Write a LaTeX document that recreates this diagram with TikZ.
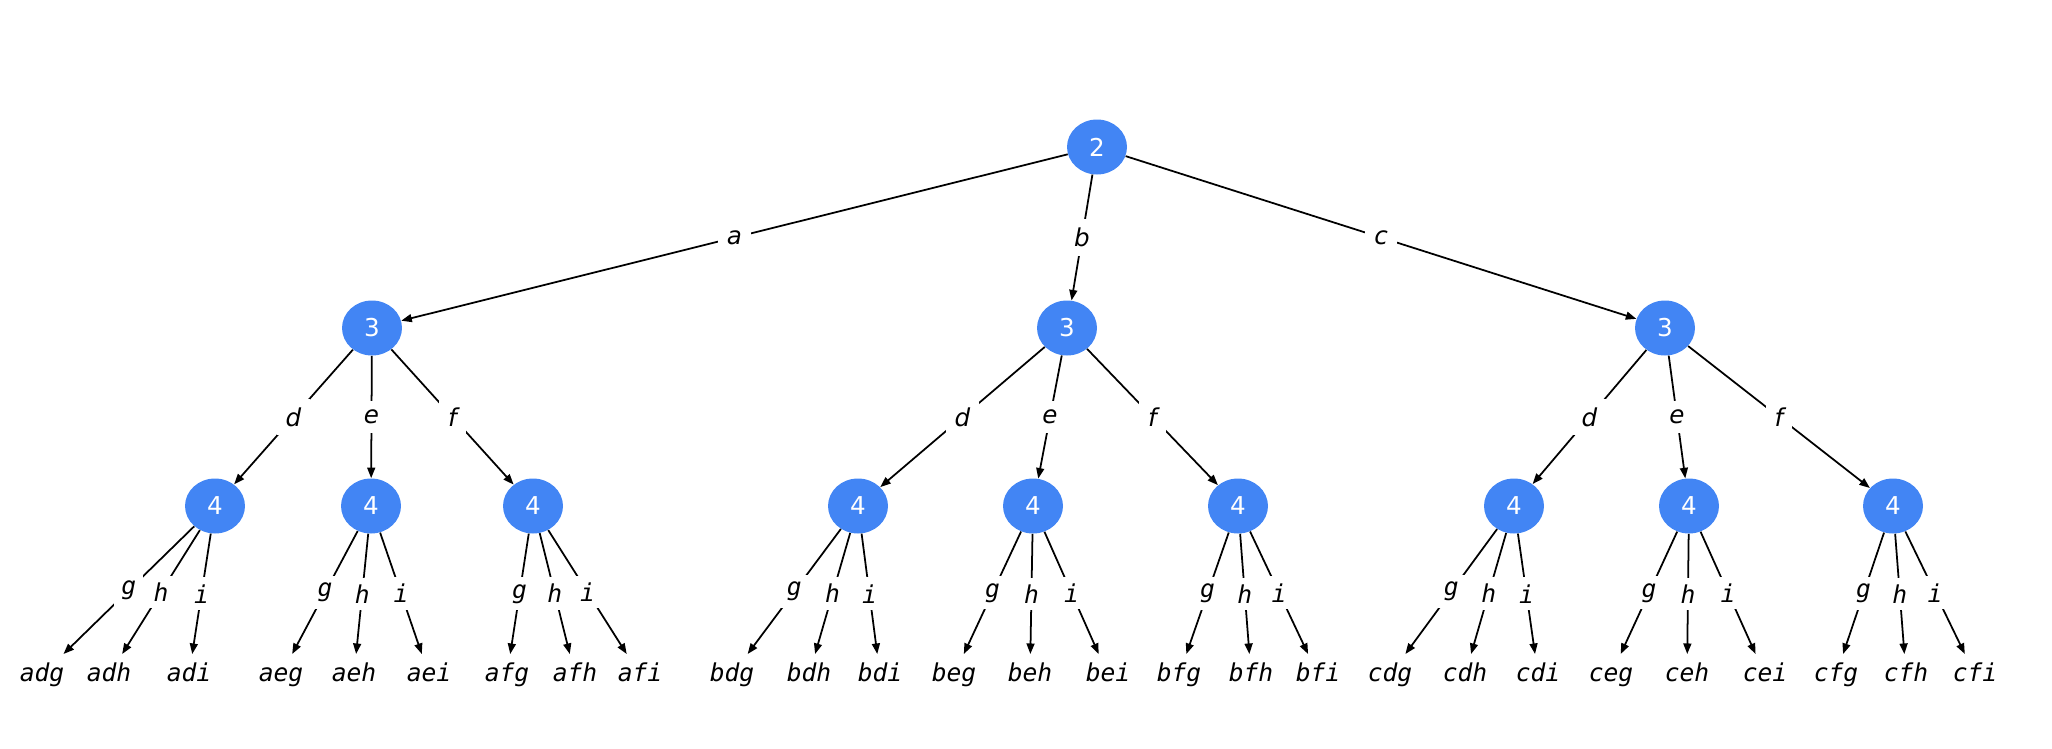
\documentclass[tikz,border=0pt]{standalone}
\usepackage{fontspec}
\setmainfont{DejaVu Sans}
\newfontfamily\edgefont{DejaVu Sans}
\newfontfamily\leaffont{DejaVu Sans Mono}
\usetikzlibrary{arrows.meta,shapes.geometric}
\definecolor{nodeblue}{HTML}{4285F4}

\tikzset{
	numnode/.style={ellipse, fill=nodeblue, text=white, inner sep=0pt,
		minimum width=1.2cm, minimum height=1.1cm,
		font=\fontsize{14}{16}\selectfont},
	leaf/.style={inner sep=5pt, text height=10.5pt, text depth=3pt,
		font=\leaffont\itshape\fontsize{14}{16}\selectfont},
	link/.style={line width=1pt, -{Triangle[length=6pt,width=4.5pt]}},
	lbl/.style={fill=white, inner sep=5pt,
		font=\edgefont\itshape\fontsize{14}{16}\selectfont},
	lblmono/.style={lbl, inner sep=4pt, font=\leaffont\itshape\fontsize{14}{16}\selectfont}
}

\begin{document}
\begin{tikzpicture}[x=0.02cm, y=-0.02cm]
	\useasboundingbox (0,0) rectangle (2052,748);
	% root
	\node[numnode] (r) at (1097,147) {2};
	% second level
	\foreach \n/\x in {a/372, b/1067, c/1665}{
		\node[numnode] (\n) at (\x,328) {3};
		\draw[link] (r) -- node[lbl] {\n} (\n);
	}
	% third level
	\foreach \p/\xd/\xe/\xf in {a/215/371/533, b/858/1033/1238, c/1514/1689/1893}{
		\foreach \q/\x in {d/\xd, e/\xe, f/\xf}{
			\node[numnode] (\p\q) at (\x,506) {4};
			\draw[link] (\p) -- node[lbl] {\q} (\p\q);
		}
	}
	% leaves
	\foreach \p/\xg/\xh/\xi in {ad/42/109/189, ae/281/354/429, af/507/575/640,
		bd/732/809/880, be/954/1030/1108, bf/1179/1251/1318,
		cd/1390/1465/1538, ce/1611/1687/1765, cf/1836/1906/1975}{
		\foreach \q/\x in {g/\xg, h/\xh, i/\xi}{
			\node[leaf] (\p\q) at (\x,675) {\p\q};
			\draw[link] (\p) -- node[lblmono] {\q} (\p\q);
		}
	}
\end{tikzpicture}
\end{document}
